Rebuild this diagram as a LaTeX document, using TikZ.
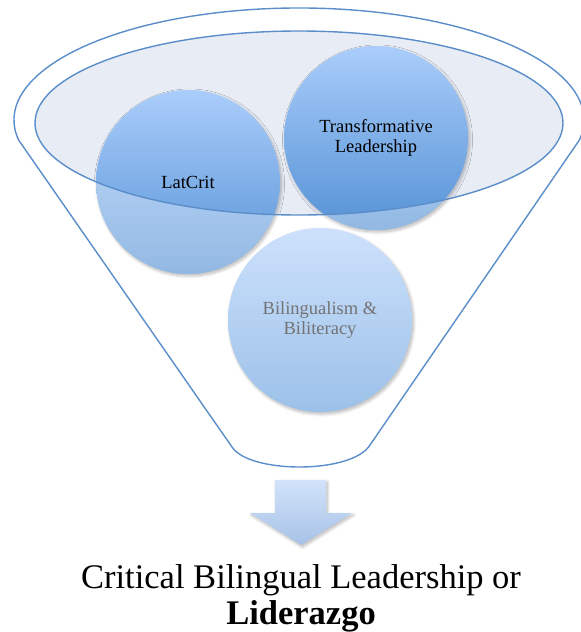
\documentclass[tikz,border=0pt]{standalone}
\usepackage{fontspec}
\IfFontExistsTF{LiberationSerif-Regular.ttf}
  {\setmainfont{LiberationSerif}[Extension=.ttf, UprightFont=*-Regular,
     BoldFont=*-Bold, ItalicFont=*-Italic, BoldItalicFont=*-BoldItalic]}
  {\setmainfont{Liberation Serif}}
\usetikzlibrary{shadows.blur}

\definecolor{funnelline}{HTML}{5A8DC9}
\definecolor{rimfill}{HTML}{E8ECF5}
\definecolor{balltop}{HTML}{AACDFB}
\definecolor{ballbot}{HTML}{5592D5}
\definecolor{lowtop}{HTML}{CDE1FC}
\definecolor{lowbot}{HTML}{9CC1E9}
\definecolor{arrowtop}{HTML}{D2E3FA}
\definecolor{arrowbot}{HTML}{A7C2E8}
\definecolor{labelgray}{HTML}{737373}

\tikzset{
  outline/.style={draw=funnelline, line width=1.4pt},
  softshadow/.style={blur shadow={shadow xshift=1.5pt, shadow yshift=-2pt,
      shadow blur radius=3pt, shadow blur steps=8, shadow opacity=28}},
  balltext/.style={font=\rmfamily\fontsize{18.5}{19.5}\selectfont, align=center},
  ball/.style={circle, minimum size=184pt, inner sep=0pt, balltext, softshadow},
  darkball/.style={ball, top color=balltop, bottom color=ballbot},
  lightball/.style={ball, top color=lowtop, bottom color=lowbot, text=labelgray},
  result/.style={anchor=base, font=\rmfamily\fontsize{34.5}{36}\selectfont},
}

\begin{document}
\begin{tikzpicture}[x=1pt, y=-1pt]
  \useasboundingbox (0,0) rectangle (581,632);
  \clip (0,0) rectangle (581,632);

  % funnel body: rim arc, sloping sides and rounded spout
  \draw[outline, line join=round]
    (18.6,140) arc[start angle=169.7, end angle=370.3, x radius=285, y radius=112]
    -- (370,445) .. controls (352,474) and (250,474) .. (232,447) -- cycle;

  % inner rim surface
  \fill[rimfill] (299,123) ellipse[x radius=264, y radius=92];

  % the three ingredients
  \node[lightball] (bili) at (320,320) {Bilingualism \&\\Biliteracy};
  \node[darkball] (latcrit) at (188,182) {};
  \node[darkball] (transf) at (376,138) {};

  % lower halves of the upper balls seen through the funnel wall
  \foreach \b in {latcrit, transf} {
    \begin{scope}
      \clip (\b.center) circle[radius=92];
      \fill[white, opacity=.36, even odd rule]
        (0,0) rectangle (581,632)
        (299,123) ellipse[x radius=264, y radius=92];
    \end{scope}
  }

  % rim outline on top
  \draw[outline] (299,123) ellipse[x radius=264, y radius=92];

  \node[balltext] (latcritlabel) at (latcrit.center) {LatCrit};
  \node[balltext] (transflabel) at (transf.center) {Transformative\\Leadership};

  % output arrow
  \path[top color=arrowtop, bottom color=arrowbot, softshadow]
    (275,480) -- (326,480) -- (326,513) -- (352,513) -- (301,545)
    -- (250,513) -- (275,513) -- cycle;

  % result
  \node[result] (line1) at (301,588) {Critical Bilingual Leadership or};
  \node[result] (line2) at (301,624) {\bfseries Liderazgo};
\end{tikzpicture}
\end{document}
